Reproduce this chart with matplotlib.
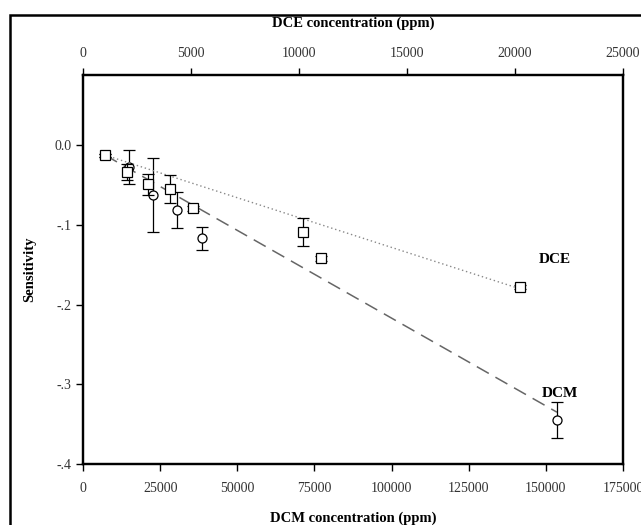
import numpy as np
import matplotlib.pyplot as plt
from matplotlib.patches import Rectangle

plt.rcParams['font.family'] = ['Liberation Serif', 'DejaVu Serif']

# DCM (circles, bottom axis)
dcm_x = [7130, 14900, 22700, 30460, 38560, 153600]
dcm_y = [-0.0125, -0.0276, -0.0627, -0.0815, -0.1166, -0.345]
dcm_err = [0.002, 0.021, 0.046, 0.023, 0.0145, 0.0226]

# DCE (squares, top axis)
dce_x = [1020, 2040, 3010, 4030, 5090, 10190, 11020, 20230]
dce_y = [-0.0125, -0.034, -0.049, -0.055, -0.079, -0.109, -0.142, -0.178]
dce_err = [0.002, 0.01, 0.013, 0.017, 0.003, 0.018, 0.003, 0.003]

# linear fits (intercept, slope)
dcm_fit = (0.0032, -2.202e-6)
dce_fit = (-0.0036, -8.73e-6)

bottom_ticks = [0, 25000, 50000, 75000, 100000, 125000, 150000, 175000]
top_ticks = [0, 5000, 10000, 15000, 20000, 25000]
y_ticks = [0.0, -0.1, -0.2, -0.3, -0.4]
y_labels = ['0.0', '-.1', '-.2', '-.3', '-.4']

fig = plt.figure(figsize=(6.41, 5.25), dpi=100)
ax = fig.add_axes([83/641, 1 - 464/525, 540/641, 389/525])
ax2 = ax.twiny()

# outer frame (cropped at right and bottom)
fig.patches.append(Rectangle((10/641, -0.1), 1.2, 1.1 - 15/525,
                             transform=fig.transFigure, fill=False,
                             edgecolor='black', linewidth=1.8))

xs = np.array([dcm_x[0], dcm_x[-1]])
ax.plot(xs, dcm_fit[0] + dcm_fit[1]*xs, color='#666666', linestyle=(0, (9, 5)), linewidth=1.1)
ax.errorbar(dcm_x, dcm_y, yerr=dcm_err, fmt='o', mfc='white', mec='black', color='black',
            markersize=6.5, markeredgewidth=0.9, elinewidth=0.9, capsize=4.3, capthick=0.9)

xs2 = np.array([dce_x[0], dce_x[-1]])
ax2.plot(xs2, dce_fit[0] + dce_fit[1]*xs2, color='#888888', linestyle=(0, (1, 2)), linewidth=1.0)
ax2.errorbar(dce_x, dce_y, yerr=dce_err, fmt='s', mfc='white', mec='black', color='black',
             markersize=6.5, markeredgewidth=0.9, elinewidth=0.9, capsize=4.3, capthick=0.9)

ax.set_xlim(0, 175000)
ax2.set_xlim(0, 25000)
ax.set_ylim(-0.4, 0.088)

ax.set_xticks(bottom_ticks)
ax.set_xticklabels([str(t) for t in bottom_ticks])
ax2.set_xticks(top_ticks)
ax2.set_xticklabels([str(t) for t in top_ticks])
ax.set_yticks(y_ticks)
ax.set_yticklabels(y_labels)

for a in (ax, ax2):
    for s in a.spines.values():
        s.set_linewidth(1.6)
    a.tick_params(direction='out', length=5, width=1.0, labelsize=10, labelcolor='#333333')
ax.tick_params(axis='x', pad=8)
ax2.tick_params(axis='x', pad=6)

ax.set_xlabel('DCM concentration (ppm)', fontsize=10.5, fontweight='bold', labelpad=12)
ax2.set_xlabel('DCE concentration (ppm)', fontsize=10.5, fontweight='bold', labelpad=14)
ax.set_ylabel('Sensitivity', fontsize=10.5, fontweight='bold', labelpad=13)

ax.text(152950, -0.144, 'DCE', fontsize=11, fontweight='bold', ha='center', va='center')
ax.text(154600, -0.311, 'DCM', fontsize=11, fontweight='bold', ha='center', va='center')

fig.savefig('out.png', dpi=100)
